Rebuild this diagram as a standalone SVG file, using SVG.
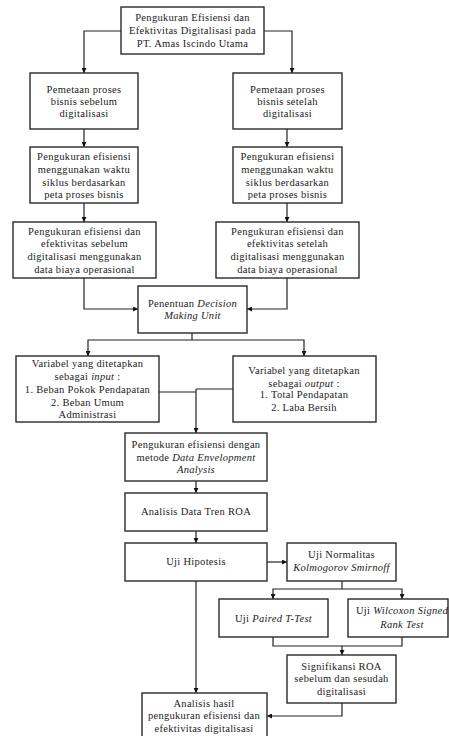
<svg xmlns="http://www.w3.org/2000/svg" width="449" height="736" viewBox="0 0 449 736">
<defs>
<marker id="ah" viewBox="0 0 10 10" refX="10" refY="5" markerWidth="5" markerHeight="5" markerUnits="userSpaceOnUse" orient="auto"><path d="M0,0 L10,5 L0,10 z" fill="#111"/></marker>
<style>
.b{fill:#fff;stroke:#2a2a2a;stroke-width:1.4}
.t{font-family:"Liberation Serif","Times New Roman",serif;font-size:10.5px;fill:#222;text-anchor:middle;letter-spacing:0.3px}
.c{fill:none;stroke:#222;stroke-width:1.2;marker-end:url(#ah)}
.n{fill:none;stroke:#222;stroke-width:1.2}
</style>
</defs>
<rect width="449" height="736" fill="#fff"/>
<g id="connectors">
<path class="c" d="M121,31 H84 V73"/>
<path class="c" d="M264,31 H292 V73"/>
<path class="c" d="M84,129 V147"/>
<path class="c" d="M287,129 V147"/>
<path class="c" d="M84,203 V222"/>
<path class="c" d="M287,203 V222"/>
<path class="c" d="M84,278 V309 H138"/>
<path class="c" d="M287,278 V309 H247"/>
<path class="n" d="M192,333 V340"/>
<path class="c" d="M192,340 H88 V356"/>
<path class="c" d="M192,340 H304 V356"/>
<path class="n" d="M159,392 H196"/>
<path class="n" d="M233,389 H196"/>
<path class="c" d="M196,389 V433"/>
<path class="c" d="M196,481 V493"/>
<path class="c" d="M196,531 V543"/>
<path class="c" d="M267,562 H287"/>
<path class="n" d="M342,581 V589"/>
<path class="c" d="M342,589 H273 V599"/>
<path class="c" d="M342,589 H402 V599"/>
<path class="n" d="M273,637 V646 H402 V637"/>
<path class="c" d="M342,646 V655"/>
<path class="c" d="M342,703 V716 H267"/>
<path class="c" d="M196,581 V693"/>
</g>
<g id="n1"><rect class="b" x="121" y="7" width="143" height="47"/>
<text class="t" x="192.5" y="21">Pengukuran Efisiensi dan</text>
<text class="t" x="192.5" y="34">Efektivitas Digitalisasi pada</text>
<text class="t" x="192.5" y="47">PT. Amas Iscindo Utama</text></g>
<g id="n2"><rect class="b" x="30" y="73" width="108" height="56"/>
<text class="t" x="84" y="93">Pemetaan proses</text>
<text class="t" x="84" y="105">bisnis sebelum</text>
<text class="t" x="84" y="117">digitalisasi</text></g>
<g id="n3"><rect class="b" x="233" y="73" width="109" height="56"/>
<text class="t" x="287.5" y="93">Pemetaan proses</text>
<text class="t" x="287.5" y="105">bisnis setelah</text>
<text class="t" x="287.5" y="117">digitalisasi</text></g>
<g id="n4"><rect class="b" x="30" y="147" width="108" height="56"/>
<text class="t" x="84" y="160">Pengukuran efisiensi</text>
<text class="t" x="84" y="173">menggunakan waktu</text>
<text class="t" x="84" y="186">siklus berdasarkan</text>
<text class="t" x="84" y="198">peta proses bisnis</text></g>
<g id="n5"><rect class="b" x="233" y="147" width="109" height="56"/>
<text class="t" x="287.5" y="160">Pengukuran efisiensi</text>
<text class="t" x="287.5" y="173">menggunakan waktu</text>
<text class="t" x="287.5" y="186">siklus berdasarkan</text>
<text class="t" x="287.5" y="198">peta proses bisnis</text></g>
<g id="n6"><rect class="b" x="13" y="222" width="143" height="56"/>
<text class="t" x="84.5" y="235">Pengukuran efisiensi dan</text>
<text class="t" x="84.5" y="247">efektivitas sebelum</text>
<text class="t" x="84.5" y="260">digitalisasi menggunakan</text>
<text class="t" x="84.5" y="273">data biaya operasional</text></g>
<g id="n7"><rect class="b" x="216" y="222" width="143" height="56"/>
<text class="t" x="287.5" y="235">Pengukuran efisiensi dan</text>
<text class="t" x="287.5" y="247">efektivitas setelah</text>
<text class="t" x="287.5" y="260">digitalisasi menggunakan</text>
<text class="t" x="287.5" y="273">data biaya operasional</text></g>
<g id="n8"><rect class="b" x="138" y="286" width="109" height="47"/>
<text class="t" x="192.5" y="307">Penentuan <tspan font-style="italic">Decision</tspan></text>
<text class="t" x="192.5" y="319" font-style="italic">Making Unit</text></g>
<g id="n9"><rect class="b" x="16" y="356" width="143" height="66"/>
<text class="t" x="87.5" y="367">Variabel yang ditetapkan</text>
<text class="t" x="87.5" y="380">sebagai <tspan font-style="italic">input</tspan> :</text>
<text class="t" x="87.5" y="393">1. Beban Pokok Pendapatan</text>
<text class="t" x="87.5" y="406">2. Beban Umum</text>
<text class="t" x="87.5" y="418">Administrasi</text></g>
<g id="n10"><rect class="b" x="233" y="356" width="143" height="66"/>
<text class="t" x="304" y="374">Variabel yang ditetapkan</text>
<text class="t" x="304" y="387">sebagai <tspan font-style="italic">output</tspan> :</text>
<text class="t" x="304" y="398">1. Total Pendapatan</text>
<text class="t" x="304" y="411">2. Laba Bersih</text></g>
<g id="n11"><rect class="b" x="125" y="433" width="142" height="48"/>
<text class="t" x="196" y="448">Pengukuran efisiensi dengan</text>
<text class="t" x="196" y="461">metode <tspan font-style="italic">Data Envelopment</tspan></text>
<text class="t" x="196" y="473" font-style="italic">Analysis</text></g>
<g id="n12"><rect class="b" x="125" y="493" width="142" height="38"/>
<text class="t" x="196" y="515">Analisis Data Tren ROA</text></g>
<g id="n13"><rect class="b" x="125" y="543" width="142" height="38"/>
<text class="t" x="196" y="565">Uji Hipotesis</text></g>
<g id="n14"><rect class="b" x="287" y="543" width="109" height="38"/>
<text class="t" x="341.5" y="558">Uji Normalitas</text>
<text class="t" x="341.5" y="571" font-style="italic">Kolmogorov Smirnoff</text></g>
<g id="n15"><rect class="b" x="219" y="599" width="109" height="38"/>
<text class="t" x="273.5" y="622">Uji <tspan font-style="italic">Paired T-Test</tspan></text></g>
<g id="n16"><rect class="b" x="348" y="599" width="100" height="38"/>
<text class="t" x="402" y="614">Uji <tspan font-style="italic">Wilcoxon Signed</tspan></text>
<text class="t" x="402" y="628" font-style="italic">Rank Test</text></g>
<g id="n17"><rect class="b" x="287" y="655" width="109" height="48"/>
<text class="t" x="341.5" y="670">Signifikansi ROA</text>
<text class="t" x="341.5" y="682">sebelum dan sesudah</text>
<text class="t" x="341.5" y="695">digitalisasi</text></g>
<g id="n18"><rect class="b" x="142" y="693" width="125" height="50"/>
<text class="t" x="204" y="707">Analisis hasil</text>
<text class="t" x="204" y="719">pengukuran efisiensi dan</text>
<text class="t" x="204" y="732">efektivitas digitalisasi</text></g>
</svg>
